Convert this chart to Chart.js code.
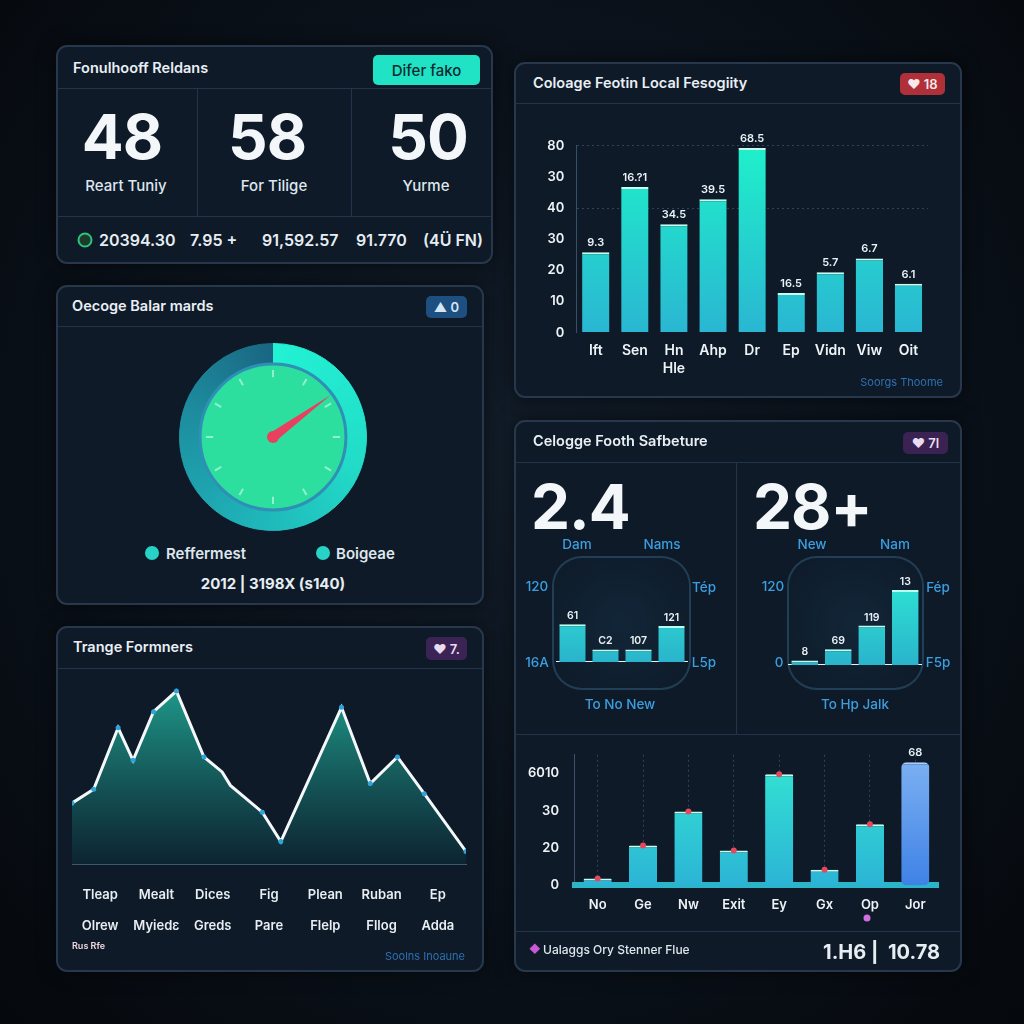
<!DOCTYPE html>
<html>
<head>
<meta charset="utf-8">
<script src="https://cdn.jsdelivr.net/npm/chart.js@4.4.1/dist/chart.umd.min.js"></script>
<style>
html, body { margin: 0; padding: 0; }
body {
    width: 1024px; height: 1024px; overflow: hidden; position: relative;
    background: radial-gradient(ellipse at 50% 45%, #121d29 0%, #0b121b 55%, #05080c 100%);
    font-family: Inter, "Noto Sans", sans-serif; color: #e6edf3;
}
.card { position: absolute; box-sizing: border-box; background: #0e1a28; border: 2px solid #27384c;
        border-radius: 11px; box-shadow: 0 0 18px rgba(0,0,0,0.55); }
.hr { position: absolute; height: 1px; background: #22344a; }
.vr { position: absolute; width: 1px; background: #22344a; }
.t  { position: absolute; line-height: 1; white-space: nowrap; transform: translateY(-50%); }
.tc { transform: translate(-50%, -50%); }
.tr { transform: translate(-100%, -50%); }
.title { font-size: 14.5px; font-weight: 600; color: #e9eff5; }
.big { font-size: 62px; font-weight: 700; color: #f4f7fa; letter-spacing: -1px; }
.lbl { font-size: 15px; font-weight: 500; color: #dfe6ee; }
.blue { font-size: 13.5px; font-weight: 500; color: #3b9ee0; }
.badge { position: absolute; border-radius: 5px; font-size: 13px; font-weight: 600;
         display: flex; align-items: center; justify-content: center; gap: 5px; }
.frame { position: absolute; box-sizing: border-box; border: 2px solid rgba(70,125,165,0.35); border-radius: 30px;
         background: radial-gradient(circle, rgba(22,48,70,0.55), rgba(14,28,42,0.35)); }
.dot { position: absolute; border-radius: 50%; transform: translate(-50%, -50%); }
canvas { position: absolute; }
</style>
</head>
<body>

<!-- ── Card 1: stats ─────────────────────────────── -->
<div class="card" style="left:56px;top:45px;width:437px;height:219px"></div>
<div class="t title" style="left:73px;top:68px">Fonulhooff Reldans</div>
<div class="badge" style="left:373px;top:55px;width:107px;height:30px;background:#1fe3c4;color:#0b2a30;font-size:15px;font-weight:500">Difer fako</div>
<div class="hr" style="left:58px;top:88px;width:433px"></div>
<div class="vr" style="left:197px;top:88px;height:128px"></div>
<div class="vr" style="left:351px;top:88px;height:128px"></div>
<div class="hr" style="left:58px;top:216px;width:433px"></div>
<div class="t tc big" style="left:122px;top:137px">48</div>
<div class="t tc big" style="left:267px;top:137px">58</div>
<div class="t tc big" style="left:428px;top:137px">50</div>
<div class="t tc lbl" style="left:126px;top:185px">Reart Tuniy</div>
<div class="t tc lbl" style="left:274px;top:185px">For Tilige</div>
<div class="t tc lbl" style="left:426px;top:185px">Yurme</div>
<div class="dot" style="left:85px;top:240px;width:11px;height:11px;background:#1c3b2e;border:2px solid #2cc47a"></div>
<div class="t" style="left:99px;top:240px;font-size:16px;font-weight:600">20394.30</div>
<div class="t" style="left:190px;top:240px;font-size:16px;font-weight:600">7.95 +</div>
<div class="t" style="left:262px;top:240px;font-size:16px;font-weight:600">91,592.57</div>
<div class="t" style="left:356px;top:240px;font-size:16px;font-weight:600">91.770</div>
<div class="t" style="left:423px;top:240px;font-size:16px;font-weight:600">(4Ü FN)</div>

<!-- ── Card 2: gauge ─────────────────────────────── -->
<div class="card" style="left:56px;top:285px;width:428px;height:320px"></div>
<div class="t title" style="left:72px;top:306px">Oecoge Balar mards</div>
<div class="badge" style="left:426px;top:296px;width:41px;height:22px;background:#1d4f80;color:#d6e6f6">▲ 0</div>
<div class="hr" style="left:58px;top:326px;width:424px"></div>
<canvas id="gaugeChart" width="190" height="190" style="left:178px;top:342px"></canvas>
<div class="dot" style="left:152px;top:553px;width:14px;height:14px;background:#27d3c6"></div>
<div class="t lbl" style="left:166px;top:553px;font-weight:600">Reffermest</div>
<div class="dot" style="left:323px;top:553px;width:14px;height:14px;background:#27d3c6"></div>
<div class="t lbl" style="left:336px;top:553px;font-weight:600">Boigeae</div>
<div class="t tc" style="left:273px;top:583px;font-size:15px;font-weight:700">2012 | 3198X (s140)</div>

<!-- ── Card 3: trend area ────────────────────────── -->
<div class="card" style="left:56px;top:626px;width:428px;height:346px"></div>
<div class="t title" style="left:73px;top:647px">Trange Formners</div>
<div class="badge" style="left:426px;top:637px;width:41px;height:23px;background:#3b2455;color:#eadcf2">♥ 7.</div>
<div class="hr" style="left:58px;top:668px;width:424px"></div>
<canvas id="trendChart" width="414" height="277" style="left:62px;top:672px"></canvas>
<div class="t" style="left:72px;top:945px;font-size:9px;font-weight:600;color:#f0d8e0">Rus Rfe</div>
<div class="t tr" style="left:465px;top:956px;font-size:11px;color:#2f6fb0">Soolns Inoaune</div>

<!-- ── Card 4: ranking bars ──────────────────────── -->
<div class="card" style="left:514px;top:62px;width:448px;height:336px"></div>
<div class="t title" style="left:533px;top:83px">Coloage Feotin Local Fesogiity</div>
<div class="badge" style="left:900px;top:73px;width:45px;height:22px;background:#b0303a;color:#f8e8ea">♥ 18</div>
<div class="hr" style="left:516px;top:103px;width:444px"></div>
<canvas id="rankChart" width="420" height="261" style="left:527px;top:126px"></canvas>
<div class="t tr" style="left:943px;top:382px;font-size:11px;color:#2f70b0">Soorgs Thoome</div>

<!-- ── Card 5: summary + flow bars ───────────────── -->
<div class="card" style="left:514px;top:420px;width:448px;height:552px"></div>
<div class="t title" style="left:533px;top:441px">Celogge Footh Safbeture</div>
<div class="badge" style="left:903px;top:432px;width:45px;height:22px;background:#3a2352;color:#eadcf2">♥ 7l</div>
<div class="hr" style="left:516px;top:462px;width:444px"></div>
<div class="vr" style="left:736px;top:462px;height:273px"></div>
<div class="hr" style="left:516px;top:734px;width:444px"></div>

<div class="t big" style="left:531px;top:507px">2.4</div>
<div class="t big" style="left:753px;top:507px">28+</div>
<div class="t tc blue" style="left:577px;top:545px">Dam</div>
<div class="t tc blue" style="left:662px;top:545px">Nams</div>
<div class="t tc blue" style="left:812px;top:545px">New</div>
<div class="t tc blue" style="left:895px;top:545px">Nam</div>
<div class="frame" style="left:552px;top:556px;width:139px;height:134px"></div>
<div class="frame" style="left:787px;top:556px;width:137px;height:134px"></div>
<div class="t tc blue" style="left:537px;top:587px">120</div>
<div class="t tc blue" style="left:537px;top:663px">16A</div>
<div class="t tc blue" style="left:704px;top:588px">Tép</div>
<div class="t tc blue" style="left:704px;top:663px">L5p</div>
<div class="t tc blue" style="left:773px;top:587px">120</div>
<div class="t tc blue" style="left:779px;top:663px">0</div>
<div class="t tc blue" style="left:938px;top:588px">Fép</div>
<div class="t tc blue" style="left:938px;top:663px">F5p</div>
<canvas id="miniLeft" width="132" height="90" style="left:556px;top:572px"></canvas>
<canvas id="miniRight" width="134" height="93" style="left:788px;top:572px"></canvas>
<div class="t tc blue" style="left:620px;top:705px">To No New</div>
<div class="t tc blue" style="left:855px;top:705px">To Hp Jalk</div>

<canvas id="flowChart" width="422" height="186" style="left:520px;top:739px"></canvas>
<div class="dot" style="left:867px;top:918px;width:7px;height:7px;background:#d070e0"></div>
<div class="hr" style="left:516px;top:931px;width:444px"></div>
<div class="t" style="left:529px;top:949px;font-size:11px;color:#c85ad8">◆</div>
<div class="t" style="left:543px;top:950px;font-size:12px;font-weight:500;color:#dfe6ee">Ualaggs Ory Stenner Flue</div>
<div class="t tr" style="left:940px;top:952px;font-size:20px;font-weight:700">1.H6 |&nbsp; 10.78</div>

<script>
'use strict';

// ── Data ─────────────────────────────────────────────
const rankCats  = ['Ift', 'Sen', ['Hn', 'Hle'], 'Ahp', 'Dr', 'Ep', 'Vidn', 'Viw', 'Oit'];
const rankVals  = [25.8, 46.8, 34.8, 42.8, 59.3, 12.7, 19.4, 23.8, 15.7];
const rankTags  = ['9.3', '16.?1', '34.5', '39.5', '68.5', '16.5', '5.7', '6.7', '6.1'];
const rankTicks = ['0', '10', '20', '30', '40', '30', '80'];

const gaugeValue = 15;   // needle reading, % of a full turn
const gaugeDial  = 12;   // tick marks on the face

const trendCats = [['Tleap', 'Olrew'], ['Mealt', 'Myiedε'], ['Dices', 'Greds'], ['Fig', 'Pare'],
                   ['Plean', 'Flelp'], ['Ruban', 'Fllog'], ['Ep', 'Adda']];
const trendX = [0, 0.55, 1.17, 1.55, 2.07, 2.65, 3.35, 3.81, 4.02, 4.83, 5.30, 6.84, 7.57, 8.26, 8.94, 10];
const trendY = [33.3, 40.8, 74.1, 56.5, 82.8, 94.0, 58.3, 50.2, 42.9, 28.4, 12.5, 85.2, 43.9, 58.3, 38.4, 7.1];

const miniLeftVals  = [61, 20, 20, 58];
const miniLeftTags  = ['61', 'C2', '107', '121'];
const miniRightVals = [7, 24.5, 61, 116];
const miniRightTags = ['8', '69', '119', '13'];

const flowCats  = ['No', 'Ge', 'Nw', 'Exit', 'Ey', 'Gx', 'Op', 'Jor'];
const flowVals  = [3.7, 21.4, 39.6, 18.7, 59.6, 8.4, 32.8, 66.0];
const flowTags  = ['', '', '', '', '', '', '', '68'];
const flowTicks = ['0', '20', '30', '6010'];

// ── Shared setup ─────────────────────────────────────
Chart.defaults.font.family = 'Inter, "Noto Sans", sans-serif';
Chart.defaults.color = '#e6edf3';
Chart.defaults.animation = false;
Chart.defaults.responsive = false;
Chart.defaults.plugins.legend.display = false;
Chart.defaults.plugins.tooltip.enabled = false;

const vGrad = (chart, top, bottom) => {
    const a = chart.chartArea;
    if (!a) return top;
    const g = chart.ctx.createLinearGradient(0, a.top, 0, a.bottom);
    g.addColorStop(0, top);
    g.addColorStop(1, bottom);
    return g;
};

// text above bars, read from a tag list
const tagPlugin = {
    id: 'tags',
    afterDatasetsDraw(chart, args, opts) {
        if (!opts || !opts.list) return;
        const ctx = chart.ctx;
        ctx.save();
        ctx.font = opts.font || '600 11px Inter';
        ctx.fillStyle = opts.color || '#eaf2f7';
        ctx.textAlign = 'center';
        ctx.textBaseline = 'bottom';
        chart.getDatasetMeta(0).data.forEach((bar, i) => {
            if (opts.list[i]) ctx.fillText(opts.list[i], bar.x, bar.y - (opts.gap || 5));
        });
        ctx.restore();
    }
};
Chart.register(tagPlugin);

// ── Ranking bars (top right) ─────────────────────────
new Chart(document.getElementById('rankChart'), {
    type: 'bar',
    data: {
        labels: rankCats,
        datasets: [{
            data: rankVals,
            backgroundColor: c => vGrad(c.chart, '#1ff0ca', '#2ab6d2'),
            borderColor: '#c6fff1',
            borderWidth: { top: 2, left: 0, right: 0, bottom: 0 },
            borderSkipped: false,
            categoryPercentage: 1,
            barPercentage: 0.7
        }]
    },
    options: {
        layout: { padding: { left: 8, right: 19, top: 16, bottom: 0 } },
        plugins: { tags: { list: rankTags, font: '600 11px Inter', gap: 4 } },
        scales: {
            x: {
                grid: { display: false, drawTicks: false },
                border: { display: false },
                ticks: { color: '#eef3f7', padding: 9, font: { size: 14, weight: 600, lineHeight: 1.3 } }
            },
            y: {
                min: 0, max: 60,
                ticks: { stepSize: 10, padding: 12, color: '#eef3f7', font: { size: 13, weight: 600 },
                         callback: (v, i) => rankTicks[i] },
                grid: { color: c => (c.tick && (c.tick.value === 40 || c.tick.value === 60)) ? 'rgba(110,145,175,0.35)' : 'transparent',
                        drawTicks: false },
                border: { color: 'rgba(90,125,155,0.55)', dash: [2, 3] }
            }
        }
    }
});

// ── Gauge (middle left) ──────────────────────────────
const ringGrad = chart => {
    const a = chart.chartArea;
    if (!a) return '#20b0b8';
    const g = chart.ctx.createConicGradient(-Math.PI / 2, (a.left + a.right) / 2, (a.top + a.bottom) / 2);
    g.addColorStop(0, '#22f2d4');
    g.addColorStop(0.3, '#22dcc8');
    g.addColorStop(0.55, '#1fb2b8');
    g.addColorStop(0.8, '#1d8c9e');
    g.addColorStop(1, '#1a6682');
    return g;
};

const gaugeFace = {
    id: 'gaugeFace',
    afterDatasetsDraw(chart) {
        const arc = chart.getDatasetMeta(0).data[0];
        if (!arc) return;
        const { x, y, innerRadius: r } = arc;
        const ctx = chart.ctx;
        ctx.save();
        ctx.beginPath();
        ctx.arc(x, y, r, 0, Math.PI * 2);
        ctx.fillStyle = '#2ddf9f';
        ctx.fill();
        ctx.lineWidth = 3;
        ctx.strokeStyle = '#2f8fb5';
        ctx.stroke();
        // dial ticks
        ctx.strokeStyle = 'rgba(225,255,240,0.55)';
        ctx.lineWidth = 2;
        for (let i = 0; i < gaugeDial; i++) {
            const a = i / gaugeDial * Math.PI * 2 - Math.PI / 2;
            ctx.beginPath();
            ctx.moveTo(x + Math.cos(a) * r * 0.82, y + Math.sin(a) * r * 0.82);
            ctx.lineTo(x + Math.cos(a) * r * 0.92, y + Math.sin(a) * r * 0.92);
            ctx.stroke();
        }
        // needle
        const na = gaugeValue / 100 * Math.PI * 2 - Math.PI / 2;
        const tip = r - 2;
        ctx.fillStyle = '#e8405e';
        ctx.beginPath();
        ctx.moveTo(x + Math.cos(na) * tip, y + Math.sin(na) * tip);
        ctx.lineTo(x + Math.cos(na + Math.PI / 2) * 5, y + Math.sin(na + Math.PI / 2) * 5);
        ctx.lineTo(x + Math.cos(na - Math.PI / 2) * 5, y + Math.sin(na - Math.PI / 2) * 5);
        ctx.closePath();
        ctx.fill();
        ctx.beginPath();
        ctx.arc(x, y, 6, 0, Math.PI * 2);
        ctx.fill();
        ctx.restore();
    }
};

new Chart(document.getElementById('gaugeChart'), {
    type: 'doughnut',
    data: { datasets: [{ data: [gaugeValue, 100 - gaugeValue],
                         backgroundColor: c => ringGrad(c.chart),
                         borderColor: c => ringGrad(c.chart), borderWidth: 1 }] },
    options: { cutout: '78%', layout: { padding: 1 }, events: [] },
    plugins: [gaugeFace]
});

// ── Trend area (bottom left) ─────────────────────────
new Chart(document.getElementById('trendChart'), {
    type: 'line',
    data: {
        datasets: [{
            data: trendX.map((x, i) => ({ x, y: trendY[i] })),
            borderColor: '#f4f8fb',
            borderWidth: 3,
            tension: 0,
            fill: 'origin',
            backgroundColor: c => vGrad(c.chart, 'rgba(34,172,152,0.92)', 'rgba(13,40,54,0.75)'),
            pointRadius: [2.5, 2.5, 2.5, 2.5, 2.5, 2.5, 2.5, 0, 0, 2.5, 2.5, 2.5, 2.5, 2.5, 2.5, 2.5],
            pointBackgroundColor: '#2ea4dc',
            pointBorderWidth: 0
        }]
    },
    options: {
        layout: { padding: { left: 10, right: 10, top: 8, bottom: 0 } },
        scales: {
            x: { type: 'linear', min: 0, max: 10, display: false },
            y: { min: 0, max: 100, display: false },
            x2: {
                type: 'category', labels: trendCats, position: 'bottom', offset: true,
                grid: { display: false },
                border: { display: true, color: 'rgba(120,160,190,0.5)', width: 1 },
                ticks: { padding: 7, color: '#e8eef3', font: { size: 13, weight: 600, lineHeight: 2.4 } }
            }
        }
    }
});

// ── Mini bars (middle right) ─────────────────────────
const miniChart = (id, vals, tags, max) => new Chart(document.getElementById(id), {
    type: 'bar',
    data: {
        labels: vals.map(() => ''),
        datasets: [{
            data: vals,
            backgroundColor: c => vGrad(c.chart, '#2ee8d4', '#2ab4cc'),
            borderColor: '#b8fff2',
            borderWidth: { top: 2, left: 0, right: 0, bottom: 0 },
            borderSkipped: false,
            categoryPercentage: 1,
            barPercentage: 0.8
        }]
    },
    options: {
        layout: { padding: 0 },
        plugins: { tags: { list: tags, font: '600 10.5px Inter', gap: 3 } },
        scales: {
            x: { ticks: { display: false }, grid: { display: false, drawTicks: false },
                 border: { color: '#e8f4f8', width: 3 } },
            y: { min: 0, max, display: false }
        }
    }
});
miniChart('miniLeft', miniLeftVals, miniLeftTags, 145);
miniChart('miniRight', miniRightVals, miniRightTags, 144);

// ── Flow bars (bottom right) ─────────────────────────
const lastFlow = flowVals.length - 1;
new Chart(document.getElementById('flowChart'), {
    data: {
        labels: flowCats,
        datasets: [{
            type: 'bar',
            data: flowVals,
            backgroundColor: c => c.dataIndex === lastFlow
                ? vGrad(c.chart, '#7fb2f2', '#3f82e6')
                : vGrad(c.chart, '#33e6d2', '#2cb4d6'),
            borderColor: c => c.dataIndex === lastFlow ? '#a9cbff' : '#c0fff2',
            borderWidth: { top: 2, left: 0, right: 0, bottom: 0 },
            borderSkipped: false,
            borderRadius: c => c.dataIndex === lastFlow ? 5 : 1,
            categoryPercentage: 1,
            barPercentage: 0.62,
            order: 2
        }, {
            type: 'line',
            data: flowVals.map((v, i) => i === lastFlow ? null : v),
            showLine: false,
            pointRadius: 3,
            pointBackgroundColor: '#e5485c',
            pointBorderWidth: 0,
            order: 1
        }]
    },
    options: {
        layout: { padding: 0 },
        plugins: { tags: { list: flowTags, font: '600 11px Inter', gap: 4 } },
        scales: {
            x: {
                grid: { offset: false, color: 'rgba(110,140,170,0.35)', drawTicks: false },
                border: { color: '#2bb5c8', width: 6, dash: [2, 3] },
                ticks: { padding: 12, color: '#eef3f7', font: { size: 13, weight: 600 } }
            },
            y: {
                min: 0, max: 70,
                afterBuildTicks: s => { s.ticks = [0, 20, 40, 60].map(value => ({ value })); },
                ticks: { padding: 8, color: '#eef3f7', font: { size: 13, weight: 600 },
                         callback: (v, i) => flowTicks[i] },
                grid: { display: false },
                border: { color: 'rgba(110,140,170,0.5)' }
            }
        }
    }
});
</script>
</body>
</html>
